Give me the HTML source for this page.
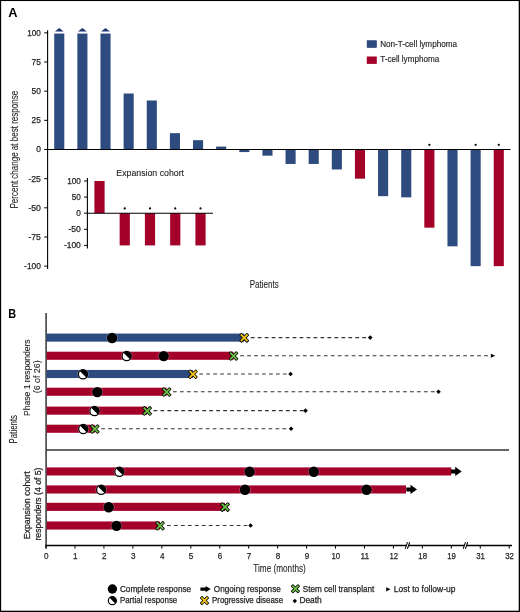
<!DOCTYPE html>
<html><head><meta charset="utf-8"><title>Figure</title>
<style>
html,body{margin:0;padding:0;background:#fff;}
svg{display:block;will-change:transform;}
text{font-family:"Liberation Sans",sans-serif;}
</style></head><body>
<svg width="520" height="612" viewBox="0 0 520 612">
<rect x="0" y="0" width="520" height="612" fill="#fff"/>
<rect x="0" y="0" width="520" height="1.05" fill="#000"/>
<rect x="0" y="0" width="1.15" height="612" fill="#000"/>
<rect x="518.7" y="0" width="1.3" height="612" fill="#000"/>
<rect x="0" y="610.7" width="520" height="1.3" fill="#000"/>
<text x="8.20" y="17.10" font-size="12.8" font-weight="bold" fill="#000">A</text>
<line x1="47.6" y1="30.3" x2="47.6" y2="269" stroke="#000" stroke-width="1.1"/>
<line x1="44.2" y1="32.85" x2="47.6" y2="32.85" stroke="#000" stroke-width="1"/>
<text x="40.90" y="35.75" font-size="8.9" stroke="#231f20" stroke-width="0.25" textLength="13.60" lengthAdjust="spacingAndGlyphs" text-anchor="end" fill="#231f20">100</text>
<line x1="44.2" y1="62.01" x2="47.6" y2="62.01" stroke="#000" stroke-width="1"/>
<text x="40.90" y="64.91" font-size="8.9" stroke="#231f20" stroke-width="0.25" textLength="9.30" lengthAdjust="spacingAndGlyphs" text-anchor="end" fill="#231f20">75</text>
<line x1="44.2" y1="91.17" x2="47.6" y2="91.17" stroke="#000" stroke-width="1"/>
<text x="40.90" y="94.08" font-size="8.9" stroke="#231f20" stroke-width="0.25" textLength="9.30" lengthAdjust="spacingAndGlyphs" text-anchor="end" fill="#231f20">50</text>
<line x1="44.2" y1="120.34" x2="47.6" y2="120.34" stroke="#000" stroke-width="1"/>
<text x="40.90" y="123.24" font-size="8.9" stroke="#231f20" stroke-width="0.25" textLength="9.30" lengthAdjust="spacingAndGlyphs" text-anchor="end" fill="#231f20">25</text>
<line x1="44.2" y1="149.50" x2="47.6" y2="149.50" stroke="#000" stroke-width="1"/>
<text x="40.90" y="152.40" font-size="8.9" stroke="#231f20" stroke-width="0.25" textLength="4.70" lengthAdjust="spacingAndGlyphs" text-anchor="end" fill="#231f20">0</text>
<line x1="44.2" y1="178.66" x2="47.6" y2="178.66" stroke="#000" stroke-width="1"/>
<text x="40.90" y="181.56" font-size="8.9" stroke="#231f20" stroke-width="0.25" textLength="12.50" lengthAdjust="spacingAndGlyphs" text-anchor="end" fill="#231f20">-25</text>
<line x1="44.2" y1="207.82" x2="47.6" y2="207.82" stroke="#000" stroke-width="1"/>
<text x="40.90" y="210.72" font-size="8.9" stroke="#231f20" stroke-width="0.25" textLength="12.50" lengthAdjust="spacingAndGlyphs" text-anchor="end" fill="#231f20">-50</text>
<line x1="44.2" y1="236.99" x2="47.6" y2="236.99" stroke="#000" stroke-width="1"/>
<text x="40.90" y="239.89" font-size="8.9" stroke="#231f20" stroke-width="0.25" textLength="12.50" lengthAdjust="spacingAndGlyphs" text-anchor="end" fill="#231f20">-75</text>
<line x1="44.2" y1="266.15" x2="47.6" y2="266.15" stroke="#000" stroke-width="1"/>
<text x="40.90" y="269.05" font-size="8.9" stroke="#231f20" stroke-width="0.25" textLength="16.80" lengthAdjust="spacingAndGlyphs" text-anchor="end" fill="#231f20">-100</text>
<text x="18.30" y="149.70" font-size="10.6" stroke="#231f20" stroke-width="0.1" textLength="117.60" lengthAdjust="spacingAndGlyphs" text-anchor="middle" fill="#231f20" transform="rotate(-90 18.30 149.70)">Percent change at best response</text>
<rect x="54.21" y="33.55" width="10.1" height="115.95" fill="#2d4b7e"/>
<polygon points="54.86,31.4 63.66,31.4 59.26,28" fill="#1c3570"/>
<rect x="77.34" y="33.55" width="10.1" height="115.95" fill="#2d4b7e"/>
<polygon points="77.99,31.4 86.79,31.4 82.39,28" fill="#1c3570"/>
<rect x="100.47" y="33.55" width="10.1" height="115.95" fill="#2d4b7e"/>
<polygon points="101.12,31.4 109.92,31.4 105.52,28" fill="#1c3570"/>
<rect x="123.61" y="93.51" width="10.1" height="55.99" fill="#2d4b7e"/>
<rect x="146.74" y="100.51" width="10.1" height="48.99" fill="#2d4b7e"/>
<rect x="169.87" y="133.17" width="10.1" height="16.33" fill="#2d4b7e"/>
<rect x="193.00" y="140.17" width="10.1" height="9.33" fill="#2d4b7e"/>
<rect x="216.13" y="146.58" width="10.1" height="2.92" fill="#2d4b7e"/>
<rect x="239.27" y="149.50" width="10.1" height="2.57" fill="#2d4b7e"/>
<rect x="262.40" y="149.50" width="10.1" height="6.18" fill="#2d4b7e"/>
<rect x="285.53" y="149.50" width="10.1" height="14.46" fill="#2d4b7e"/>
<rect x="308.66" y="149.50" width="10.1" height="14.46" fill="#2d4b7e"/>
<rect x="331.79" y="149.50" width="10.1" height="19.95" fill="#2d4b7e"/>
<rect x="354.93" y="149.50" width="10.1" height="29.16" fill="#a3002a"/>
<rect x="378.06" y="149.50" width="10.1" height="46.66" fill="#2d4b7e"/>
<rect x="401.19" y="149.50" width="10.1" height="47.83" fill="#2d4b7e"/>
<rect x="424.32" y="149.50" width="10.1" height="78.16" fill="#a3002a"/>
<circle cx="429.37" cy="144.8" r="1.15" fill="#000"/>
<rect x="447.45" y="149.50" width="10.1" height="96.82" fill="#2d4b7e"/>
<rect x="470.59" y="149.50" width="10.1" height="116.65" fill="#2d4b7e"/>
<circle cx="475.64" cy="144.8" r="1.15" fill="#000"/>
<rect x="493.72" y="149.50" width="10.1" height="116.65" fill="#a3002a"/>
<circle cx="498.77" cy="144.8" r="1.15" fill="#000"/>
<line x1="47.6" y1="149.5" x2="510.5" y2="149.5" stroke="#000" stroke-width="1.1"/>
<rect x="367.1" y="40.7" width="9.4" height="6.8" fill="#2d4b7e" stroke="#1d3870" stroke-width="0.6"/>
<rect x="366.8" y="56.5" width="10" height="7.4" fill="#a3002a"/>
<text x="380.20" y="47.00" font-size="8.4" stroke="#231f20" stroke-width="0.15" textLength="76.80" lengthAdjust="spacingAndGlyphs" fill="#231f20">Non-T-cell lymphoma</text>
<text x="380.20" y="62.30" font-size="8.4" stroke="#231f20" stroke-width="0.15" textLength="59.00" lengthAdjust="spacingAndGlyphs" fill="#231f20">T-cell lymphoma</text>
<text x="249.70" y="288.00" font-size="10.5" stroke="#231f20" stroke-width="0.1" textLength="29.10" lengthAdjust="spacingAndGlyphs" fill="#231f20">Patients</text>
<text x="116.30" y="176.10" font-size="8.8" stroke="#231f20" stroke-width="0.12" textLength="67.70" lengthAdjust="spacingAndGlyphs" fill="#231f20">Expansion cohort</text>
<line x1="87.4" y1="177.9" x2="87.4" y2="248.5" stroke="#000" stroke-width="1.1"/>
<line x1="84.1" y1="180.98" x2="87.4" y2="180.98" stroke="#000" stroke-width="1"/>
<text x="80.80" y="183.98" font-size="8.5" stroke="#231f20" stroke-width="0.25" textLength="13.60" lengthAdjust="spacingAndGlyphs" text-anchor="end" fill="#231f20">100</text>
<line x1="84.1" y1="197.09" x2="87.4" y2="197.09" stroke="#000" stroke-width="1"/>
<text x="80.80" y="200.09" font-size="8.5" stroke="#231f20" stroke-width="0.25" textLength="9.10" lengthAdjust="spacingAndGlyphs" text-anchor="end" fill="#231f20">50</text>
<line x1="84.1" y1="213.20" x2="87.4" y2="213.20" stroke="#000" stroke-width="1"/>
<text x="80.80" y="216.20" font-size="8.5" stroke="#231f20" stroke-width="0.25" textLength="4.60" lengthAdjust="spacingAndGlyphs" text-anchor="end" fill="#231f20">0</text>
<line x1="84.1" y1="229.31" x2="87.4" y2="229.31" stroke="#000" stroke-width="1"/>
<text x="80.80" y="232.31" font-size="8.5" stroke="#231f20" stroke-width="0.25" textLength="12.40" lengthAdjust="spacingAndGlyphs" text-anchor="end" fill="#231f20">-50</text>
<line x1="84.1" y1="245.42" x2="87.4" y2="245.42" stroke="#000" stroke-width="1"/>
<text x="80.80" y="248.42" font-size="8.5" stroke="#231f20" stroke-width="0.25" textLength="16.90" lengthAdjust="spacingAndGlyphs" text-anchor="end" fill="#231f20">-100</text>
<rect x="94.40" y="180.98" width="10.2" height="32.22" fill="#a3002a"/>
<rect x="119.65" y="213.20" width="10.2" height="32.22" fill="#a3002a"/>
<circle cx="124.75" cy="208.4" r="1.1" fill="#000"/>
<rect x="144.90" y="213.20" width="10.2" height="32.22" fill="#a3002a"/>
<circle cx="150.00" cy="208.4" r="1.1" fill="#000"/>
<rect x="170.15" y="213.20" width="10.2" height="32.22" fill="#a3002a"/>
<circle cx="175.25" cy="208.4" r="1.1" fill="#000"/>
<rect x="195.40" y="213.20" width="10.2" height="32.22" fill="#a3002a"/>
<circle cx="200.50" cy="208.4" r="1.1" fill="#000"/>
<line x1="87.4" y1="213.2" x2="213" y2="213.2" stroke="#000" stroke-width="1.1"/>
<text x="8.30" y="317.70" font-size="11.9" textLength="7.90" lengthAdjust="spacingAndGlyphs" font-weight="bold" fill="#000">B</text>
<line x1="46.1" y1="312.9" x2="46.1" y2="548.5" stroke="#333" stroke-width="1.5"/>
<line x1="46.1" y1="450" x2="509" y2="450" stroke="#333" stroke-width="1.5"/>
<rect x="46.70" y="333.55" width="197.50" height="8.1" fill="#2d4b7e"/>
<line x1="250.80" y1="337.60" x2="368.50" y2="337.60" stroke="#333" stroke-width="1.2" stroke-dasharray="3.75 3.22"/>
<polygon points="367.90,337.60 370.20,335.30 372.50,337.60 370.20,339.90" fill="#000"/>
<circle cx="112.10" cy="337.95" r="5.8" fill="#fff" fill-opacity="0.35"/>
<circle cx="112.10" cy="337.95" r="5.2" fill="#000"/>
<polygon points="246.92,333.85 248.20,335.13 245.47,337.85 248.20,340.57 246.92,341.85 244.20,339.12 241.48,341.85 240.20,340.57 242.93,337.85 240.20,335.13 241.48,333.85 244.20,336.58" fill="#f5c51c" stroke="#000" stroke-width="1.6" stroke-linejoin="round" paint-order="stroke"/>
<rect x="46.70" y="351.70" width="186.80" height="8.1" fill="#a3002a"/>
<line x1="240.20" y1="355.75" x2="491.00" y2="355.75" stroke="#333" stroke-width="1.2" stroke-dasharray="3.75 3.22"/>
<polygon points="490.80,353.65 495.20,355.75 490.80,357.85" fill="#000"/>
<circle cx="126.70" cy="356.05" r="5.80" fill="#fff" fill-opacity="0.35"/>
<circle cx="126.70" cy="356.05" r="4.6" fill="#fff" stroke="#000" stroke-width="1.2"/>
<path d="M123.45,352.80 A4.6,4.6 0 0 1 129.95,359.30 Z" fill="#000"/>
<circle cx="163.70" cy="356.10" r="5.8" fill="#fff" fill-opacity="0.35"/>
<circle cx="163.70" cy="356.10" r="5.2" fill="#000"/>
<polygon points="236.22,352.00 237.50,353.28 234.77,356.00 237.50,358.72 236.22,360.00 233.50,357.27 230.78,360.00 229.50,358.72 232.23,356.00 229.50,353.28 230.78,352.00 233.50,354.73" fill="#6dbe45" stroke="#000" stroke-width="1.6" stroke-linejoin="round" paint-order="stroke"/>
<rect x="46.70" y="369.95" width="146.20" height="8.1" fill="#2d4b7e"/>
<line x1="199.30" y1="374.00" x2="289.00" y2="374.00" stroke="#333" stroke-width="1.2" stroke-dasharray="3.75 3.22"/>
<polygon points="288.30,374.00 290.60,371.70 292.90,374.00 290.60,376.30" fill="#000"/>
<circle cx="83.00" cy="374.30" r="5.80" fill="#fff" fill-opacity="0.35"/>
<circle cx="83.00" cy="374.30" r="4.6" fill="#fff" stroke="#000" stroke-width="1.2"/>
<path d="M79.75,371.05 A4.6,4.6 0 0 1 86.25,377.55 Z" fill="#000"/>
<polygon points="195.62,370.25 196.90,371.53 194.17,374.25 196.90,376.97 195.62,378.25 192.90,375.52 190.18,378.25 188.90,376.97 191.63,374.25 188.90,371.53 190.18,370.25 192.90,372.98" fill="#f5c51c" stroke="#000" stroke-width="1.6" stroke-linejoin="round" paint-order="stroke"/>
<rect x="46.70" y="387.70" width="119.90" height="8.1" fill="#a3002a"/>
<line x1="173.00" y1="391.75" x2="437.00" y2="391.75" stroke="#333" stroke-width="1.2" stroke-dasharray="3.75 3.22"/>
<polygon points="436.20,391.75 438.50,389.45 440.80,391.75 438.50,394.05" fill="#000"/>
<circle cx="97.30" cy="392.10" r="5.8" fill="#fff" fill-opacity="0.35"/>
<circle cx="97.30" cy="392.10" r="5.2" fill="#000"/>
<polygon points="169.32,388.00 170.60,389.28 167.87,392.00 170.60,394.72 169.32,396.00 166.60,393.27 163.88,396.00 162.60,394.72 165.33,392.00 162.60,389.28 163.88,388.00 166.60,390.73" fill="#6dbe45" stroke="#000" stroke-width="1.6" stroke-linejoin="round" paint-order="stroke"/>
<rect x="46.70" y="406.60" width="100.40" height="8.1" fill="#a3002a"/>
<line x1="153.50" y1="410.65" x2="304.00" y2="410.65" stroke="#333" stroke-width="1.2" stroke-dasharray="3.75 3.22"/>
<polygon points="303.20,410.65 305.50,408.35 307.80,410.65 305.50,412.95" fill="#000"/>
<circle cx="94.50" cy="410.95" r="5.80" fill="#fff" fill-opacity="0.35"/>
<circle cx="94.50" cy="410.95" r="4.6" fill="#fff" stroke="#000" stroke-width="1.2"/>
<path d="M91.25,407.70 A4.6,4.6 0 0 1 97.75,414.20 Z" fill="#000"/>
<polygon points="149.82,406.90 151.10,408.18 148.37,410.90 151.10,413.62 149.82,414.90 147.10,412.17 144.38,414.90 143.10,413.62 145.83,410.90 143.10,408.18 144.38,406.90 147.10,409.63" fill="#6dbe45" stroke="#000" stroke-width="1.6" stroke-linejoin="round" paint-order="stroke"/>
<rect x="46.70" y="424.70" width="48.10" height="8.1" fill="#a3002a"/>
<line x1="101.20" y1="428.75" x2="289.50" y2="428.75" stroke="#333" stroke-width="1.2" stroke-dasharray="3.75 3.22"/>
<polygon points="288.80,428.75 291.10,426.45 293.40,428.75 291.10,431.05" fill="#000"/>
<circle cx="83.30" cy="429.05" r="5.80" fill="#fff" fill-opacity="0.35"/>
<circle cx="83.30" cy="429.05" r="4.6" fill="#fff" stroke="#000" stroke-width="1.2"/>
<path d="M80.05,425.80 A4.6,4.6 0 0 1 86.55,432.30 Z" fill="#000"/>
<polygon points="97.52,425.00 98.80,426.28 96.07,429.00 98.80,431.72 97.52,433.00 94.80,430.27 92.08,433.00 90.80,431.72 93.53,429.00 90.80,426.28 92.08,425.00 94.80,427.73" fill="#6dbe45" stroke="#000" stroke-width="1.6" stroke-linejoin="round" paint-order="stroke"/>
<rect x="46.70" y="467.40" width="404.55" height="8.1" fill="#a3002a"/>
<path d="M451.00,469.45 H455.20 V466.80 L461.70,471.45 L455.20,476.10 V473.45 H451.00 Z" fill="#000"/>
<circle cx="119.40" cy="471.75" r="5.80" fill="#fff" fill-opacity="0.35"/>
<circle cx="119.40" cy="471.75" r="4.6" fill="#fff" stroke="#000" stroke-width="1.2"/>
<path d="M116.15,468.50 A4.6,4.6 0 0 1 122.65,475.00 Z" fill="#000"/>
<circle cx="249.60" cy="471.80" r="5.8" fill="#fff" fill-opacity="0.35"/>
<circle cx="249.60" cy="471.80" r="5.2" fill="#000"/>
<circle cx="313.80" cy="471.80" r="5.8" fill="#fff" fill-opacity="0.35"/>
<circle cx="313.80" cy="471.80" r="5.2" fill="#000"/>
<rect x="46.70" y="485.40" width="359.30" height="8.1" fill="#a3002a"/>
<path d="M406.30,487.45 H410.50 V484.80 L417.00,489.45 L410.50,494.10 V491.45 H406.30 Z" fill="#000"/>
<circle cx="101.20" cy="489.75" r="5.80" fill="#fff" fill-opacity="0.35"/>
<circle cx="101.20" cy="489.75" r="4.6" fill="#fff" stroke="#000" stroke-width="1.2"/>
<path d="M97.95,486.50 A4.6,4.6 0 0 1 104.45,493.00 Z" fill="#000"/>
<circle cx="245.00" cy="489.80" r="5.8" fill="#fff" fill-opacity="0.35"/>
<circle cx="245.00" cy="489.80" r="5.2" fill="#000"/>
<circle cx="366.50" cy="489.80" r="5.8" fill="#fff" fill-opacity="0.35"/>
<circle cx="366.50" cy="489.80" r="5.2" fill="#000"/>
<rect x="46.70" y="502.80" width="178.30" height="8.1" fill="#a3002a"/>
<circle cx="108.70" cy="507.20" r="5.8" fill="#fff" fill-opacity="0.35"/>
<circle cx="108.70" cy="507.20" r="5.2" fill="#000"/>
<polygon points="227.72,503.10 229.00,504.38 226.27,507.10 229.00,509.82 227.72,511.10 225.00,508.37 222.28,511.10 221.00,509.82 223.73,507.10 221.00,504.38 222.28,503.10 225.00,505.83" fill="#6dbe45" stroke="#000" stroke-width="1.6" stroke-linejoin="round" paint-order="stroke"/>
<rect x="46.70" y="521.45" width="113.30" height="8.1" fill="#a3002a"/>
<line x1="167.00" y1="525.50" x2="249.00" y2="525.50" stroke="#333" stroke-width="1.2" stroke-dasharray="3.75 3.22"/>
<polygon points="248.30,525.50 250.60,523.20 252.90,525.50 250.60,527.80" fill="#000"/>
<circle cx="116.50" cy="525.85" r="5.8" fill="#fff" fill-opacity="0.35"/>
<circle cx="116.50" cy="525.85" r="5.2" fill="#000"/>
<polygon points="162.72,521.75 164.00,523.03 161.27,525.75 164.00,528.47 162.72,529.75 160.00,527.02 157.28,529.75 156.00,528.47 158.73,525.75 156.00,523.03 157.28,521.75 160.00,524.48" fill="#6dbe45" stroke="#000" stroke-width="1.6" stroke-linejoin="round" paint-order="stroke"/>
<line x1="45.4" y1="545.5" x2="512" y2="545.5" stroke="#000" stroke-width="1.4"/>
<line x1="46.05" y1="545.5" x2="46.05" y2="548.6" stroke="#000" stroke-width="1"/>
<text x="46.35" y="559.30" font-size="9.3" stroke="#231f20" stroke-width="0.25" textLength="4.50" lengthAdjust="spacingAndGlyphs" text-anchor="middle" fill="#231f20">0</text>
<line x1="75.00" y1="545.5" x2="75.00" y2="548.6" stroke="#000" stroke-width="1"/>
<text x="75.30" y="559.30" font-size="9.3" stroke="#231f20" stroke-width="0.25" textLength="4.50" lengthAdjust="spacingAndGlyphs" text-anchor="middle" fill="#231f20">1</text>
<line x1="103.95" y1="545.5" x2="103.95" y2="548.6" stroke="#000" stroke-width="1"/>
<text x="104.25" y="559.30" font-size="9.3" stroke="#231f20" stroke-width="0.25" textLength="4.50" lengthAdjust="spacingAndGlyphs" text-anchor="middle" fill="#231f20">2</text>
<line x1="132.89" y1="545.5" x2="132.89" y2="548.6" stroke="#000" stroke-width="1"/>
<text x="133.19" y="559.30" font-size="9.3" stroke="#231f20" stroke-width="0.25" textLength="4.50" lengthAdjust="spacingAndGlyphs" text-anchor="middle" fill="#231f20">3</text>
<line x1="161.84" y1="545.5" x2="161.84" y2="548.6" stroke="#000" stroke-width="1"/>
<text x="162.14" y="559.30" font-size="9.3" stroke="#231f20" stroke-width="0.25" textLength="4.50" lengthAdjust="spacingAndGlyphs" text-anchor="middle" fill="#231f20">4</text>
<line x1="190.79" y1="545.5" x2="190.79" y2="548.6" stroke="#000" stroke-width="1"/>
<text x="191.09" y="559.30" font-size="9.3" stroke="#231f20" stroke-width="0.25" textLength="4.50" lengthAdjust="spacingAndGlyphs" text-anchor="middle" fill="#231f20">5</text>
<line x1="219.74" y1="545.5" x2="219.74" y2="548.6" stroke="#000" stroke-width="1"/>
<text x="220.04" y="559.30" font-size="9.3" stroke="#231f20" stroke-width="0.25" textLength="4.50" lengthAdjust="spacingAndGlyphs" text-anchor="middle" fill="#231f20">6</text>
<line x1="248.69" y1="545.5" x2="248.69" y2="548.6" stroke="#000" stroke-width="1"/>
<text x="248.99" y="559.30" font-size="9.3" stroke="#231f20" stroke-width="0.25" textLength="4.50" lengthAdjust="spacingAndGlyphs" text-anchor="middle" fill="#231f20">7</text>
<line x1="277.63" y1="545.5" x2="277.63" y2="548.6" stroke="#000" stroke-width="1"/>
<text x="277.93" y="559.30" font-size="9.3" stroke="#231f20" stroke-width="0.25" textLength="4.50" lengthAdjust="spacingAndGlyphs" text-anchor="middle" fill="#231f20">8</text>
<line x1="306.58" y1="545.5" x2="306.58" y2="548.6" stroke="#000" stroke-width="1"/>
<text x="306.88" y="559.30" font-size="9.3" stroke="#231f20" stroke-width="0.25" textLength="4.50" lengthAdjust="spacingAndGlyphs" text-anchor="middle" fill="#231f20">9</text>
<line x1="335.53" y1="545.5" x2="335.53" y2="548.6" stroke="#000" stroke-width="1"/>
<text x="335.83" y="559.30" font-size="9.3" stroke="#231f20" stroke-width="0.25" textLength="8.70" lengthAdjust="spacingAndGlyphs" text-anchor="middle" fill="#231f20">10</text>
<line x1="364.48" y1="545.5" x2="364.48" y2="548.6" stroke="#000" stroke-width="1"/>
<text x="364.78" y="559.30" font-size="9.3" stroke="#231f20" stroke-width="0.25" textLength="8.70" lengthAdjust="spacingAndGlyphs" text-anchor="middle" fill="#231f20">11</text>
<line x1="393.43" y1="545.5" x2="393.43" y2="548.6" stroke="#000" stroke-width="1"/>
<text x="393.73" y="559.30" font-size="9.3" stroke="#231f20" stroke-width="0.25" textLength="8.70" lengthAdjust="spacingAndGlyphs" text-anchor="middle" fill="#231f20">12</text>
<line x1="422.37" y1="545.5" x2="422.37" y2="548.6" stroke="#000" stroke-width="1"/>
<text x="422.67" y="559.30" font-size="9.3" stroke="#231f20" stroke-width="0.25" textLength="8.70" lengthAdjust="spacingAndGlyphs" text-anchor="middle" fill="#231f20">18</text>
<line x1="451.32" y1="545.5" x2="451.32" y2="548.6" stroke="#000" stroke-width="1"/>
<text x="451.62" y="559.30" font-size="9.3" stroke="#231f20" stroke-width="0.25" textLength="8.70" lengthAdjust="spacingAndGlyphs" text-anchor="middle" fill="#231f20">19</text>
<line x1="480.27" y1="545.5" x2="480.27" y2="548.6" stroke="#000" stroke-width="1"/>
<text x="480.57" y="559.30" font-size="9.3" stroke="#231f20" stroke-width="0.25" textLength="8.70" lengthAdjust="spacingAndGlyphs" text-anchor="middle" fill="#231f20">31</text>
<line x1="509.22" y1="545.5" x2="509.22" y2="548.6" stroke="#000" stroke-width="1"/>
<text x="509.52" y="559.30" font-size="9.3" stroke="#231f20" stroke-width="0.25" textLength="8.70" lengthAdjust="spacingAndGlyphs" text-anchor="middle" fill="#231f20">32</text>
<polygon points="405.65,546.70 407.85,546.70 409.25,544.30 407.05,544.30" fill="#fff"/>
<line x1="405.20" y1="548.80" x2="407.50" y2="542.15" stroke="#000" stroke-width="1.05"/>
<line x1="407.40" y1="548.80" x2="409.70" y2="542.15" stroke="#000" stroke-width="1.05"/>
<polygon points="463.65,546.70 465.85,546.70 467.25,544.30 465.05,544.30" fill="#fff"/>
<line x1="463.20" y1="548.80" x2="465.50" y2="542.15" stroke="#000" stroke-width="1.05"/>
<line x1="465.40" y1="548.80" x2="467.70" y2="542.15" stroke="#000" stroke-width="1.05"/>
<text x="253.30" y="572.20" font-size="10.3" stroke="#231f20" stroke-width="0.1" textLength="52.50" lengthAdjust="spacingAndGlyphs" fill="#231f20">Time (months)</text>
<text x="30.20" y="416.00" font-size="9.0" stroke="#231f20" stroke-width="0.1" textLength="76.60" lengthAdjust="spacingAndGlyphs" fill="#231f20" transform="rotate(-90 30.20 416.00)">Phase 1 responders</text>
<text x="40.10" y="393.30" font-size="9.0" stroke="#231f20" stroke-width="0.1" textLength="32.90" lengthAdjust="spacingAndGlyphs" fill="#231f20" transform="rotate(-90 40.10 393.30)">(6 of 26)</text>
<text x="17.30" y="443.40" font-size="10.8" stroke="#231f20" stroke-width="0.1" textLength="28.40" lengthAdjust="spacingAndGlyphs" fill="#231f20" transform="rotate(-90 17.30 443.40)">Patients</text>
<text x="30.40" y="539.35" font-size="9.2" stroke="#231f20" stroke-width="0.25" textLength="67.95" lengthAdjust="spacingAndGlyphs" fill="#231f20" transform="rotate(-90 30.40 539.35)">Expansion cohort</text>
<text x="40.60" y="540.50" font-size="9.2" stroke="#231f20" stroke-width="0.25" textLength="72.90" lengthAdjust="spacingAndGlyphs" fill="#231f20" transform="rotate(-90 40.60 540.50)">responders (4 of 5)</text>
<circle cx="112.4" cy="589.0" r="4.65" fill="#000"/>
<circle cx="112.35" cy="600.65" r="4.0" fill="#fff" stroke="#000" stroke-width="1.2"/>
<path d="M109.52,597.82 A4.0,4.0 0 0 1 115.18,603.48 Z" fill="#000"/>
<text x="119.90" y="591.80" font-size="8.6" stroke="#231f20" stroke-width="0.25" textLength="71.30" lengthAdjust="spacingAndGlyphs" fill="#231f20">Complete response</text>
<text x="119.90" y="603.30" font-size="8.6" stroke="#231f20" stroke-width="0.25" textLength="57.40" lengthAdjust="spacingAndGlyphs" fill="#231f20">Partial response</text>
<path d="M200.40,587.55 H205.60 V585.90 L210.70,589.10 L205.60,592.30 V590.65 H200.40 Z" fill="#000"/>
<text x="213.80" y="591.80" font-size="8.6" stroke="#231f20" stroke-width="0.25" textLength="67.00" lengthAdjust="spacingAndGlyphs" fill="#231f20">Ongoing response</text>
<polygon points="207.03,596.82 208.22,598.00 205.68,600.53 208.22,603.06 207.03,604.25 204.50,601.72 201.97,604.25 200.78,603.06 203.32,600.53 200.78,598.00 201.97,596.82 204.50,599.35" fill="#f5c51c" stroke="#000" stroke-width="1.6" stroke-linejoin="round" paint-order="stroke"/>
<text x="212.00" y="603.30" font-size="8.6" stroke="#231f20" stroke-width="0.25" textLength="71.20" lengthAdjust="spacingAndGlyphs" fill="#231f20">Progressive disease</text>
<polygon points="297.93,585.02 299.12,586.20 296.58,588.73 299.12,591.26 297.93,592.45 295.40,589.92 292.87,592.45 291.68,591.26 294.22,588.73 291.68,586.20 292.87,585.02 295.40,587.55" fill="#6dbe45" stroke="#000" stroke-width="1.6" stroke-linejoin="round" paint-order="stroke"/>
<text x="302.70" y="591.80" font-size="8.6" stroke="#231f20" stroke-width="0.25" textLength="71.60" lengthAdjust="spacingAndGlyphs" fill="#231f20">Stem cell transplant</text>
<polygon points="292.60,601.00 294.80,598.80 297.00,601.00 294.80,603.20" fill="#000"/>
<text x="299.40" y="603.40" font-size="8.6" stroke="#231f20" stroke-width="0.25" textLength="22.40" lengthAdjust="spacingAndGlyphs" fill="#231f20">Death</text>
<polygon points="386.2,587.2 390.5,589.35 386.2,591.5" fill="#000"/>
<text x="393.80" y="591.80" font-size="8.6" stroke="#231f20" stroke-width="0.25" textLength="61.60" lengthAdjust="spacingAndGlyphs" fill="#231f20">Lost to follow-up</text>
</svg>
</body></html>
